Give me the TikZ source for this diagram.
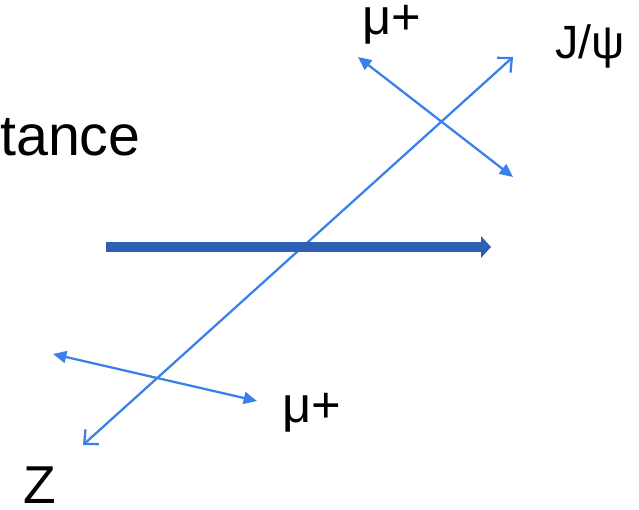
\documentclass[tikz,border=0pt]{standalone}
\usepackage{fontspec}
\setmainfont{Liberation Sans}
\usetikzlibrary{arrows.meta}
\definecolor{trackblue}{RGB}{58,128,236}
\definecolor{beamblue}{RGB}{47,95,179}

\begin{document}
\begin{tikzpicture}[x=0.75pt,y=-0.75pt,
    lbl/.style={inner sep=0pt,anchor=base west},
    track/.style={trackblue,line width=1.7pt},
    mutip/.style={{Triangle[length=10pt,width=9pt]}-{Triangle[length=10pt,width=9pt]}},
    jpsitip/.style={{Straight Barb[length=8pt,width=15pt]}-{Straight Barb[length=8pt,width=15pt]}}]
\useasboundingbox (0,0) rectangle (639,510);
% labels
\node[lbl,font=\fontsize{43}{48}\selectfont] (tance) at (0,155) {tance};
\node[lbl,font=\fontsize{40}{44}\selectfont] (zlab) at (23,503) {Z};
\node[lbl,font=\fontsize{35}{40}\selectfont] (jpsi) at (555,59) {J/ψ};
\node[lbl,font=\fontsize{38}{42}\selectfont] (muup) at (362,35) {μ+};
\node[lbl,font=\fontsize{38}{42}\selectfont] (mulow) at (282,422) {μ+};
% track end points
\coordinate (zend) at (83,445);
\coordinate (jend) at (513,57);
\coordinate (mua) at (358,57);
\coordinate (mub) at (513,177);
\coordinate (muc) at (53,354);
\coordinate (mud) at (257,401);
\coordinate (beamst) at (106,247);
\coordinate (beamend) at (491,247);
\draw[track,jpsitip] (zend) -- (jend);
\draw[track,mutip] (mua) -- (mub);
\draw[track,mutip] (muc) -- (mud);
\draw[beamblue,line width=7.8pt,-{Triangle[length=7.5pt,width=16pt]}] (beamst) -- (beamend);
\end{tikzpicture}
\end{document}
